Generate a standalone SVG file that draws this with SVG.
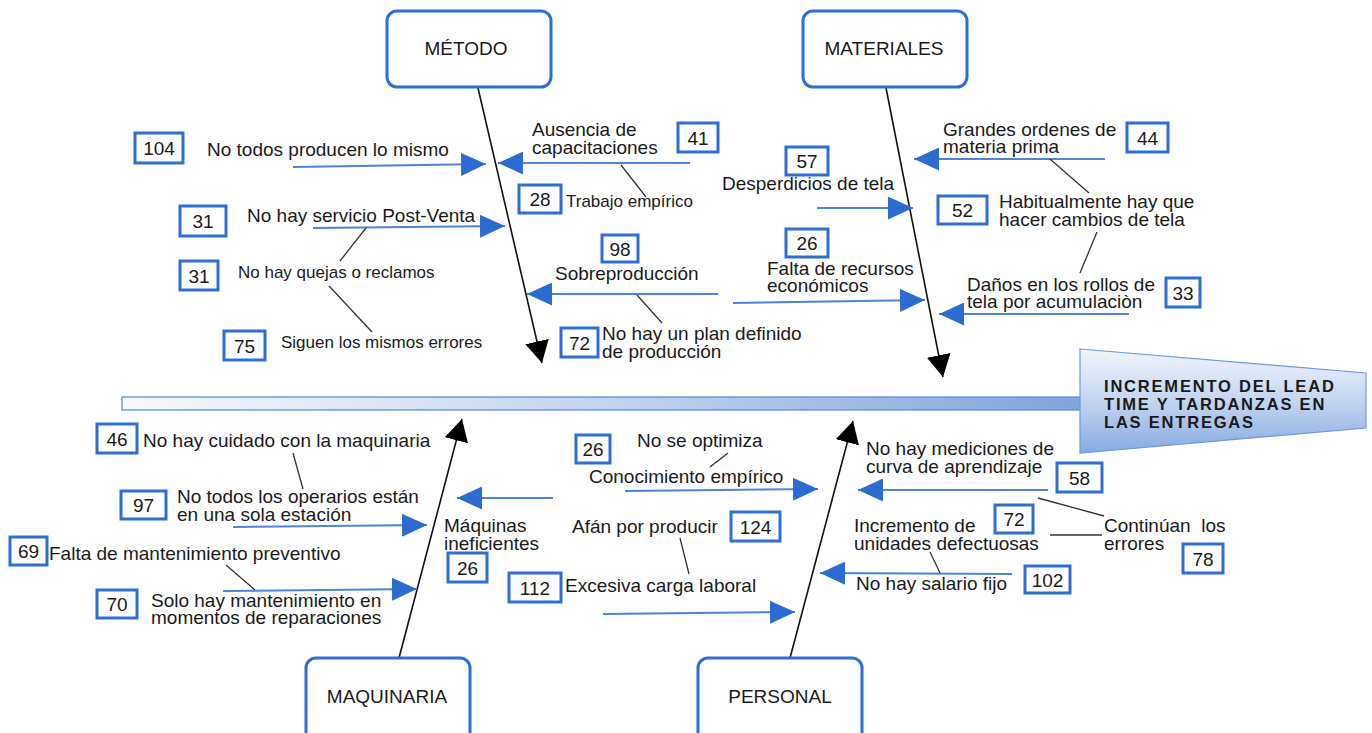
<svg xmlns="http://www.w3.org/2000/svg" width="1372" height="733" viewBox="0 0 1372 733">
  <defs>
    <style>
      .cat { fill: #ffffff; stroke: #2f6fd4; stroke-width: 3; }
      .num { fill: #ffffff; stroke: #2f6fd4; stroke-width: 3; }
      text { font-family: "Liberation Sans", Arial, sans-serif; fill: #1a1a1a; }
      .t { font-size: 19px; }
      .s { font-size: 17px; }
      .n { font-size: 19px; text-anchor: middle; }
      .c { font-size: 19px; text-anchor: middle; }
      .head { font-size: 16.5px; font-weight: bold; letter-spacing: 1.8px; }
      .bone { stroke: #111111; stroke-width: 1.6; fill: none; marker-end: url(#blk); }
      .arr { stroke: #4d84dc; stroke-width: 2; fill: none; marker-end: url(#blu); }
      .link { stroke: #333333; stroke-width: 1.3; fill: none; }
    </style>
    <marker id="blk" viewBox="0 0 22 24" refX="22" refY="12" markerWidth="22" markerHeight="24" markerUnits="userSpaceOnUse" orient="auto">
      <path d="M0,0 L22,12 L0,24 z" fill="#000000"/>
    </marker>
    <marker id="blu" viewBox="0 0 25 23" refX="25" refY="11.5" markerWidth="25" markerHeight="23" markerUnits="userSpaceOnUse" orient="auto">
      <path d="M0,0 L25,11.5 L0,23 z" fill="#2c6bd0"/>
    </marker>
    <linearGradient id="spineFill" x1="0" y1="0" x2="1" y2="0">
      <stop offset="0" stop-color="#f7f9fd"/>
      <stop offset="0.5" stop-color="#c3d4ef"/>
      <stop offset="1" stop-color="#7fa3dc"/>
    </linearGradient>
    <linearGradient id="headFill" x1="0" y1="0" x2="0" y2="1">
      <stop offset="0" stop-color="#f2f5fc"/>
      <stop offset="0.5" stop-color="#c4d5f0"/>
      <stop offset="1" stop-color="#86aae2"/>
    </linearGradient>
  </defs>

  <rect width="1372" height="733" fill="#ffffff"/>

  <!-- spine and effect head -->
  <g id="spine">
    <rect x="122" y="397" width="962" height="13" fill="url(#spineFill)" stroke="#5b8fe0" stroke-width="1.3"/>
  </g>
  <g id="effect">
    <polygon points="1080,349 1366,373 1366,428 1080,453" fill="url(#headFill)" stroke="#6f9ae0" stroke-width="1.2"/>
    <text class="head" x="1104" y="392">INCREMENTO DEL LEAD<tspan x="1104" dy="18">TIME Y TARDANZAS EN</tspan><tspan x="1104" dy="18">LAS ENTREGAS</tspan></text>
  </g>

  <!-- connectors: main bones, cause arrows and sub-cause links -->
  <g id="connectors">
    <line class="bone" x1="478" y1="88" x2="542" y2="363"/>
    <line class="bone" x1="886" y1="88" x2="943" y2="377"/>
    <line class="bone" x1="399" y1="658" x2="462" y2="419"/>
    <line class="bone" x1="790" y1="658" x2="853" y2="421"/>

    <!-- método -->
    <line class="arr" x1="293" y1="167" x2="486" y2="164"/>
    <line class="arr" x1="690" y1="163" x2="498" y2="163"/>
    <line class="arr" x1="313" y1="228" x2="505" y2="226"/>
    <line class="arr" x1="718" y1="294" x2="527" y2="294"/>
    <line class="link" x1="621" y1="165" x2="646" y2="197"/>
    <line class="link" x1="366" y1="228" x2="340" y2="261"/>
    <line class="link" x1="329" y1="286" x2="372" y2="332"/>
    <line class="link" x1="637" y1="295" x2="662" y2="323"/>

    <!-- materiales -->
    <line class="arr" x1="817" y1="208" x2="913" y2="208"/>
    <line class="arr" x1="733" y1="303" x2="925" y2="300"/>
    <line class="arr" x1="1105" y1="159" x2="914" y2="159"/>
    <line class="arr" x1="1129" y1="314" x2="939" y2="314"/>
    <line class="link" x1="1050" y1="159" x2="1089" y2="193"/>
    <line class="link" x1="1097" y1="232" x2="1080" y2="273"/>

    <!-- maquinaria -->
    <line class="arr" x1="233" y1="527" x2="427" y2="525"/>
    <line class="arr" x1="223" y1="591" x2="417" y2="589"/>
    <line class="arr" x1="553" y1="498" x2="457" y2="498"/>
    <line class="link" x1="293" y1="453" x2="303" y2="489"/>
    <line class="link" x1="226" y1="565" x2="255" y2="590"/>

    <!-- personal -->
    <line class="arr" x1="625" y1="491" x2="818" y2="489"/>
    <line class="arr" x1="1048" y1="490" x2="858" y2="490"/>
    <line class="arr" x1="1012" y1="574" x2="820" y2="573"/>
    <line class="arr" x1="603" y1="614" x2="795" y2="612"/>
    <line class="link" x1="728" y1="453" x2="710" y2="467"/>
    <line class="link" x1="1038" y1="498" x2="1104" y2="516"/>
    <line class="link" x1="1050" y1="535" x2="1102" y2="535"/>
    <line class="link" x1="930" y1="552" x2="940" y2="573"/>
    <line class="link" x1="680" y1="538" x2="689" y2="574"/>
  </g>

  <!-- category boxes -->
  <g id="metodo">
    <rect class="cat" x="387" y="11" width="164" height="76" rx="10"/>
    <text class="c" x="466" y="55">MÉTODO</text>
  </g>
  <g id="materiales">
    <rect class="cat" x="803" y="11" width="164" height="76" rx="10"/>
    <text class="c" x="884" y="55">MATERIALES</text>
  </g>
  <g id="maquinaria">
    <rect class="cat" x="306" y="658" width="164" height="92" rx="10"/>
    <text class="c" x="387" y="703">MAQUINARIA</text>
  </g>
  <g id="personal">
    <rect class="cat" x="698" y="658" width="164" height="92" rx="10"/>
    <text class="c" x="780" y="703">PERSONAL</text>
  </g>

  <!-- método causes -->
  <g id="m-104">
    <rect class="num" x="135" y="133" width="48" height="30"/>
    <text class="n" x="159" y="155">104</text>
    <text class="t" x="207" y="156">No todos producen lo mismo</text>
  </g>
  <g id="m-41">
    <text class="t" x="532" y="136">Ausencia de<tspan x="532" dy="18">capacitaciones</tspan></text>
    <rect class="num" x="678" y="123" width="40" height="29"/>
    <text class="n" x="698" y="145">41</text>
  </g>
  <g id="m-28">
    <rect class="num" x="519" y="185" width="42" height="28"/>
    <text class="n" x="540" y="206">28</text>
    <text class="s" x="566" y="207">Trabajo empírico</text>
  </g>
  <g id="m-31a">
    <rect class="num" x="180" y="206" width="46" height="30"/>
    <text class="n" x="203" y="228">31</text>
    <text class="t" x="247" y="222">No hay servicio Post-Venta</text>
  </g>
  <g id="m-31b">
    <rect class="num" x="180" y="261" width="38" height="29"/>
    <text class="n" x="199" y="283">31</text>
    <text class="s" x="238" y="278">No hay quejas o reclamos</text>
  </g>
  <g id="m-75">
    <rect class="num" x="224" y="331" width="41" height="29"/>
    <text class="n" x="244.5" y="353">75</text>
    <text class="s" x="281" y="348">Siguen los mismos errores</text>
  </g>
  <g id="m-98">
    <rect class="num" x="602" y="235" width="36" height="27"/>
    <text class="n" x="620" y="256">98</text>
    <text class="t" x="555" y="280">Sobreproducción</text>
  </g>
  <g id="m-72">
    <rect class="num" x="561" y="328" width="37" height="29"/>
    <text class="n" x="579.5" y="350">72</text>
    <text class="t" x="602" y="340">No hay un plan definido<tspan x="602" dy="18">de producción</tspan></text>
  </g>

  <!-- materiales causes -->
  <g id="t-57">
    <rect class="num" x="786" y="147" width="42" height="28"/>
    <text class="n" x="807" y="168">57</text>
    <text class="t" x="722" y="190">Desperdicios de tela</text>
  </g>
  <g id="t-26">
    <rect class="num" x="786" y="229" width="42" height="28"/>
    <text class="n" x="807" y="250">26</text>
    <text class="t" x="767" y="275">Falta de recursos<tspan x="767" dy="17">económicos</tspan></text>
  </g>
  <g id="t-44">
    <text class="t" x="943" y="136">Grandes ordenes de<tspan x="943" dy="17">materia prima</tspan></text>
    <rect class="num" x="1127" y="123" width="41" height="29"/>
    <text class="n" x="1147.5" y="145">44</text>
  </g>
  <g id="t-52">
    <rect class="num" x="938" y="196" width="49" height="28"/>
    <text class="n" x="962.5" y="217">52</text>
    <text class="t" x="999" y="208">Habitualmente hay que<tspan x="999" dy="18">hacer cambios de tela</tspan></text>
  </g>
  <g id="t-33">
    <text class="t" x="967" y="291">Daños en los rollos de<tspan x="967" dy="17">tela por acumulaciòn</tspan></text>
    <rect class="num" x="1166" y="278" width="34" height="29"/>
    <text class="n" x="1183" y="300">33</text>
  </g>

  <!-- maquinaria causes -->
  <g id="q-46">
    <rect class="num" x="97" y="424" width="40" height="29"/>
    <text class="n" x="117" y="446">46</text>
    <text class="t" x="143" y="447">No hay cuidado con la maquinaria</text>
  </g>
  <g id="q-97">
    <rect class="num" x="121" y="491" width="45" height="28"/>
    <text class="n" x="143.5" y="512">97</text>
    <text class="t" x="177" y="503">No todos los operarios están<tspan x="177" dy="18">en una sola estación</tspan></text>
  </g>
  <g id="q-69">
    <rect class="num" x="10" y="537" width="37" height="28"/>
    <text class="n" x="28.5" y="558">69</text>
    <text class="t" x="49" y="560">Falta de mantenimiento preventivo</text>
  </g>
  <g id="q-70">
    <rect class="num" x="97" y="590" width="40" height="28"/>
    <text class="n" x="117" y="611">70</text>
    <text class="t" x="151" y="607">Solo hay mantenimiento en<tspan x="151" dy="17">momentos de reparaciones</tspan></text>
  </g>
  <g id="q-26">
    <text class="t" x="444" y="532">Máquinas<tspan x="444" dy="18">ineficientes</tspan></text>
    <rect class="num" x="448" y="553" width="39" height="29"/>
    <text class="n" x="467.5" y="575">26</text>
  </g>

  <!-- personal causes -->
  <g id="p-26">
    <rect class="num" x="576" y="435" width="34" height="28"/>
    <text class="n" x="593" y="456">26</text>
    <text class="t" x="637" y="447">No se optimiza</text>
    <text class="t" x="589" y="483">Conocimiento empírico</text>
  </g>
  <g id="p-58">
    <text class="t" x="866" y="455">No hay mediciones de<tspan x="866" dy="18">curva de aprendizaje</tspan></text>
    <rect class="num" x="1057" y="463" width="45" height="29"/>
    <text class="n" x="1079.5" y="485">58</text>
  </g>
  <g id="p-78">
    <text class="t" x="1104" y="532" xml:space="preserve">Continúan  los<tspan x="1104" dy="18">errores</tspan></text>
    <rect class="num" x="1183" y="544" width="40" height="29"/>
    <text class="n" x="1203" y="566">78</text>
  </g>
  <g id="p-72">
    <rect class="num" x="995" y="505" width="38" height="28"/>
    <text class="n" x="1014" y="526">72</text>
    <text class="t" x="854" y="532">Incremento de<tspan x="854" dy="18">unidades defectuosas</tspan></text>
  </g>
  <g id="p-102">
    <text class="t" x="856" y="590">No hay salario fijo</text>
    <rect class="num" x="1025" y="566" width="45" height="27"/>
    <text class="n" x="1047.5" y="587">102</text>
  </g>
  <g id="p-124">
    <text class="t" x="572" y="533">Afán por producir</text>
    <rect class="num" x="731" y="512" width="49" height="29"/>
    <text class="n" x="755.5" y="534">124</text>
  </g>
  <g id="p-112">
    <rect class="num" x="509" y="573" width="52" height="29"/>
    <text class="n" x="535" y="595">112</text>
    <text class="t" x="565" y="592">Excesiva carga laboral</text>
  </g>
</svg>
